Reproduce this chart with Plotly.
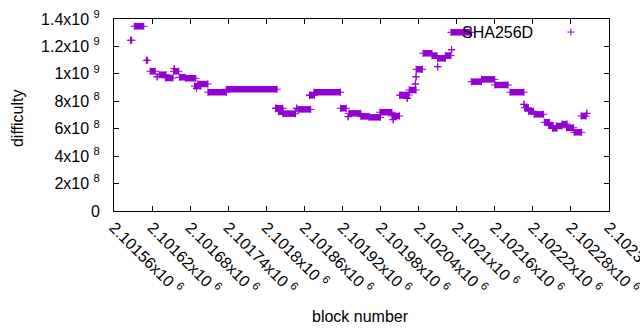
import plotly.graph_objects as go

# Runs of (nearly) equal difficulty: first block, last block, difficulty
run_start = [2101586, 2101592, 2101611, 2101617, 2101628, 2101631, 2101641, 2101655, 2101654, 2101663,
             2101673, 2101690, 2101687, 2101692, 2101708, 2101737, 2101815, 2101816, 2101819, 2101826,
             2101848, 2101850, 2101869, 2101868, 2101875, 2101917, 2101929, 2101930, 2101949, 2101962,
             2101979, 2102000, 2101998, 2102010, 2102012, 2102022, 2102025, 2102035, 2102036, 2102036,
             2102047, 2102061, 2102070, 2102070, 2102082, 2102092, 2102091, 2102123, 2102139, 2102160,
             2102184, 2102206, 2102207, 2102213, 2102222, 2102238, 2102245, 2102251, 2102257, 2102266,
             2102273, 2102285, 2102296, 2102305]
run_end = [2101588, 2101607, 2101613, 2101625, 2101628, 2101642, 2101653, 2101655, 2101662, 2101672,
           2101689, 2101690, 2101697, 2101708, 2101737, 2101817, 2101815, 2101826, 2101827, 2101846,
           2101848, 2101870, 2101869, 2101876, 2101917, 2101926, 2101929, 2101949, 2101962, 2101980,
           2101998, 2102000, 2102010, 2102020, 2102025, 2102022, 2102036, 2102035, 2102036, 2102046,
           2102061, 2102069, 2102070, 2102082, 2102091, 2102092, 2102123, 2102139, 2102160, 2102181,
           2102206, 2102206, 2102213, 2102221, 2102237, 2102246, 2102252, 2102258, 2102266, 2102274,
           2102284, 2102297, 2102304, 2102305]
run_difficulty = [1.245e9, 1.347e9, 1.099e9, 1.019e9, 0.979e9, 0.994e9, 0.970e9, 1.038e9, 1.019e9, 0.975e9,
                  0.968e9, 0.895e9, 0.911e9, 0.926e9, 0.866e9, 0.888e9, 0.749e9, 0.749e9, 0.724e9, 0.710e9,
                  0.749e9, 0.741e9, 0.844e9, 0.844e9, 0.866e9, 0.749e9, 0.688e9, 0.712e9, 0.690e9, 0.683e9,
                  0.720e9, 0.666e9, 0.693e9, 0.844e9, 0.846e9, 0.822e9, 0.882e9, 0.926e9, 0.979e9, 1.033e9,
                  1.150e9, 1.133e9, 1.052e9, 1.113e9, 1.133e9, 1.176e9, 1.303e9, 0.943e9, 0.960e9, 0.919e9,
                  0.866e9, 0.778e9, 0.753e9, 0.727e9, 0.705e9, 0.647e9, 0.622e9, 0.603e9, 0.620e9, 0.634e9,
                  0.607e9, 0.574e9, 0.693e9, 0.712e9]

x_tickvals = [2101560, 2101620, 2101680, 2101740, 2101800, 2101860, 2101920, 2101980,
              2102040, 2102100, 2102160, 2102220, 2102280, 2102340]
x_ticktext = ["2.10156x10", "2.10162x10", "2.10168x10", "2.10174x10", "2.1018x10", "2.10186x10",
              "2.10192x10", "2.10198x10", "2.10204x10", "2.1021x10", "2.10216x10", "2.10222x10",
              "2.10228x10", "2.10234x10"]
y_tickvals = [0, 2e8, 4e8, 6e8, 8e8, 1e9, 1.2e9, 1.4e9]
y_ticktext = ["0", "2x10", "4x10", "6x10", "8x10", "1x10", "1.2x10", "1.4x10"]
y_exp = ["", "8", "8", "8", "8", "9", "9", "9"]

series_name = "SHA256D"
color = "#9400D3"
FONT = "Liberation Sans, Arial, sans-serif"

xs, ys = [], []
for s, e, v in zip(run_start, run_end, run_difficulty):
    xs += [s, e, None]
    ys += [v, v, None]

fig = go.Figure()
fig.add_trace(go.Scatter(
    x=xs, y=ys, mode="lines+markers", name=series_name,
    line=dict(color=color, width=6.5),
    marker=dict(symbol="cross-thin", size=5.2, color=color, line=dict(color=color, width=1)),
    connectgaps=False, showlegend=False, cliponaxis=False,
))

fig.update_layout(
    template="none",
    width=640, height=330,
    margin=dict(l=114, r=31, t=19, b=119, autoexpand=False),
    paper_bgcolor="white", plot_bgcolor="white",
    font=dict(family=FONT, size=16, color="black"),
    showlegend=False,
)
fig.update_xaxes(
    range=[2101560, 2102340], tickmode="array", tickvals=x_tickvals,
    ticktext=[t + " <sup>6</sup>" for t in x_ticktext],
    tickangle=45, ticks="inside", ticklen=5, tickcolor="black", mirror="allticks",
    showline=True, linecolor="black", linewidth=1, showgrid=False, zeroline=False,
    tickfont=dict(family=FONT, size=16, color="black"), automargin=False,
    ticklabeloverflow="allow",
)
fig.update_yaxes(
    range=[0, 1.4e9], tickmode="array", tickvals=y_tickvals,
    ticktext=[t + (" <sup>" + e + "</sup>" if e else "") for t, e in zip(y_ticktext, y_exp)],
    ticks="inside", ticklen=5, tickcolor="black", mirror="allticks",
    showline=True, linecolor="black", linewidth=1, showgrid=False, zeroline=False,
    tickfont=dict(family=FONT, size=16, color="black"), ticklabelstandoff=10, automargin=False,
    ticklabeloverflow="allow",
)
fig.add_annotation(text="difficulty", xref="paper", yref="paper", x=-0.196, y=0.484,
                   xanchor="center", yanchor="middle",
                   textangle=-90, showarrow=False, font=dict(family=FONT, size=16, color="black"))
fig.add_annotation(text="block number", xref="paper", yref="paper", x=0.497, y=-0.547,
                   xanchor="center", yanchor="middle",
                   showarrow=False, font=dict(family=FONT, size=16, color="black"))
# gnuplot-style key: text right-aligned, sample marker to its right
fig.add_annotation(text=series_name, xref="paper", yref="paper", x=0.8505, y=0.932,
                   xanchor="right", yanchor="middle", showarrow=False,
                   font=dict(family=FONT, size=16, color="black"))
fig.add_shape(type="path", xref="paper", yref="paper", xsizemode="pixel", ysizemode="pixel",
              xanchor=0.923, yanchor=0.932, path="M-3.5,0 L3.5,0 M0,-3.5 L0,3.5",
              line=dict(color=color, width=1))

fig.write_html("out.html", config={"displayModeBar": False},
               post_script="document.body.style.margin='0';document.body.style.overflow='hidden';")
